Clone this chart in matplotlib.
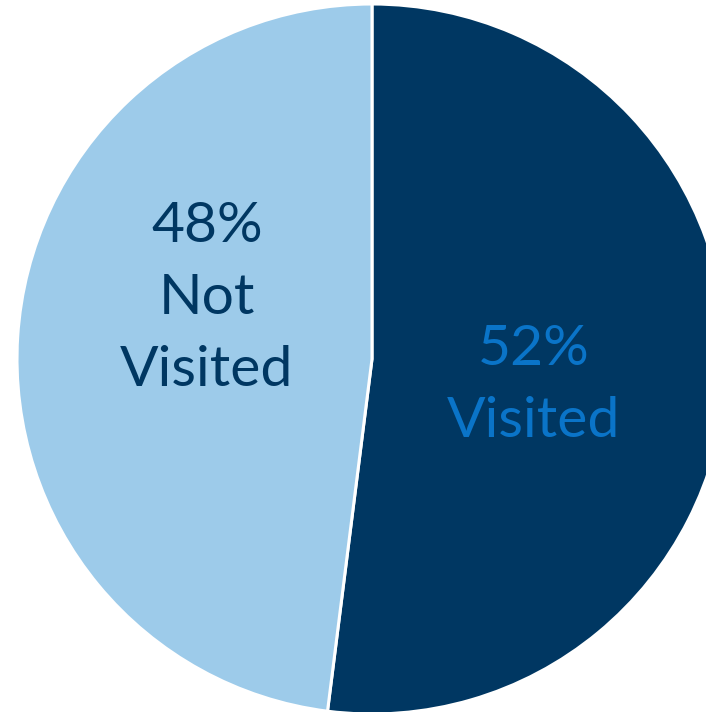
import matplotlib.pyplot as plt

# data
categories = ["Visited", "Not Visited"]
shares = [52, 48]
colors = ["#003762", "#9dcbea"]
text_colors = ["#0a74c8", "#003762"]
labels = ["52%\nVisited", "48%\nNot\nVisited"]
label_pos = [(0.455, -0.075), (-0.465, 0.17)]

plt.rcParams['font.family'] = ['Lato', 'DejaVu Sans']

fig = plt.figure(figsize=(7.06, 7.12), dpi=100)
# pie center ~ (372, 359) px, radius ~355 px
cx, cy, r = 372, 712 - 359, 355
ax = fig.add_axes([(cx - r) / 706, (cy - r) / 712, 2 * r / 706, 2 * r / 712])
ax.pie(shares, colors=colors, startangle=90, counterclock=False, radius=1,
       wedgeprops=dict(edgecolor="white", linewidth=2.2))
ax.set_xlim(-1, 1)
ax.set_ylim(-1, 1)
ax.set_aspect("equal")
ax.axis("off")

for lab, (x, y), c in zip(labels, label_pos, text_colors):
    ax.text(x, y, lab, ha="center", va="center", color=c, fontsize=41,
            linespacing=1.52)

fig.savefig("out.png", dpi=100)
